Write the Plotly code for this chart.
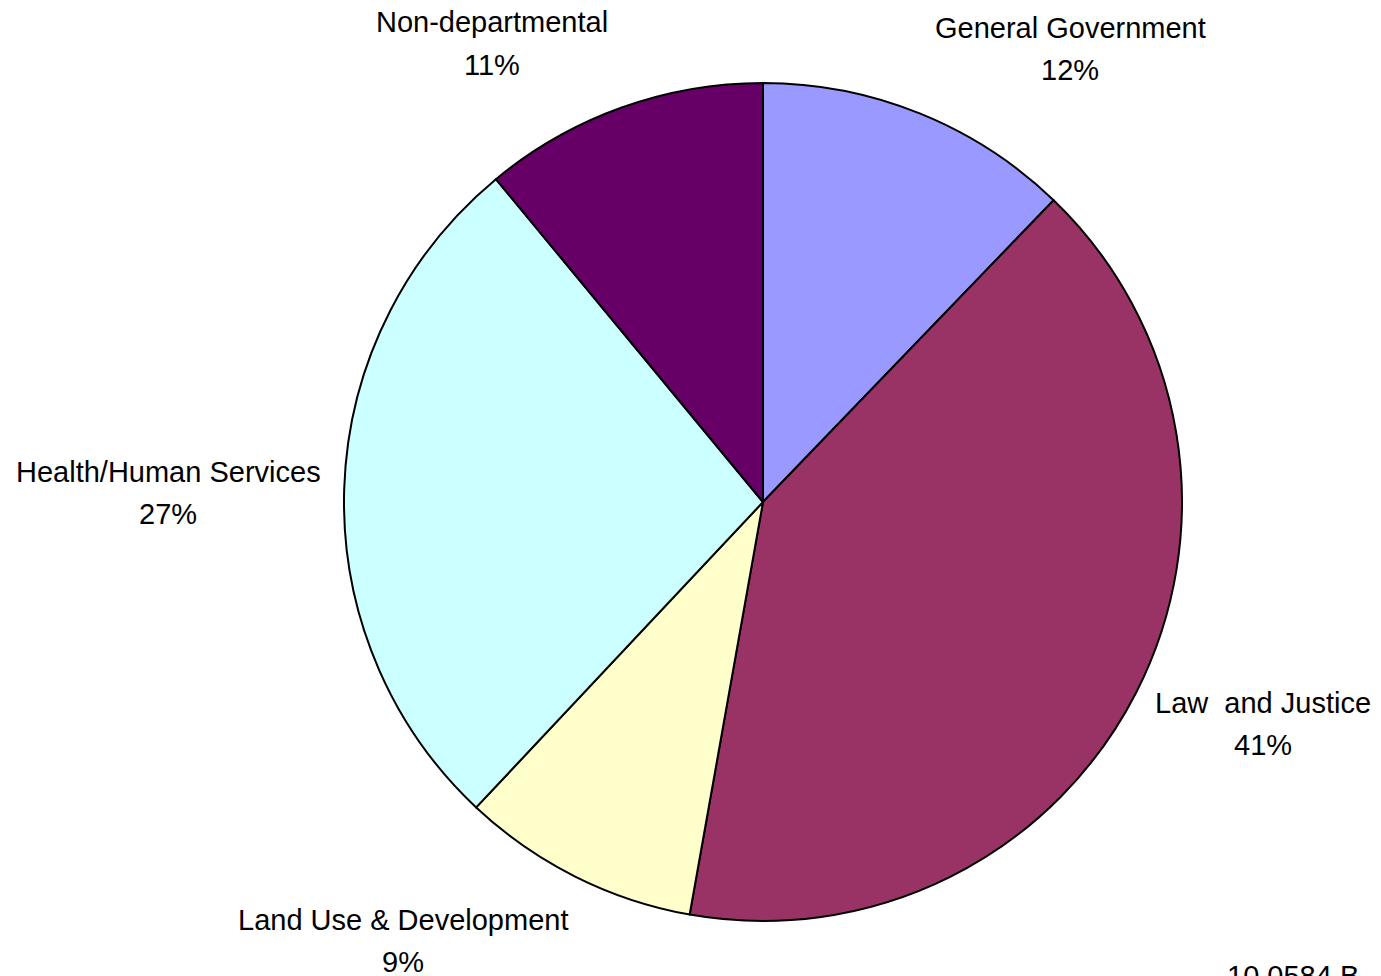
import plotly.graph_objects as go

categories = ["General Government", "Law  and Justice", "Land Use & Development",
              "Health/Human Services", "Non-departmental"]
shares = [12.2, 40.6, 9.2, 27.0, 11.0]
colors = ["#9999FF", "#993366", "#FFFFCC", "#CCFFFF", "#660066"]
total_label = "10.0584 B"

W, H = 1381, 976
cx, cy, r = 763, 502, 419
FONT = dict(family="Liberation Sans, Arial, sans-serif", size=29, color="black")

fig = go.Figure(go.Pie(
    labels=categories,
    values=shares,
    sort=False,
    direction="clockwise",
    rotation=0,
    textinfo="none",
    hoverinfo="label+percent",
    marker=dict(colors=colors, line=dict(color="black", width=2)),
    domain=dict(x=[(cx - r) / W, (cx + r) / W],
                y=[(H - cy - r) / H, (H - cy + r) / H]),
    showlegend=False,
))

# label anchors in pixels: (x centre, name line y, percent line y)
label_pos = {
    "General Government": (1070, 28, 70),
    "Law  and Justice": (1263, 703, 745),
    "Land Use & Development": (403, 920, 962),
    "Health/Human Services": (168, 472, 514),
    "Non-departmental": (492, 22, 65),
}

tot = sum(shares)
annotations = []
for name, v in zip(categories, shares):
    x, y1, y2 = label_pos[name]
    for txt, y in ((name.replace("  ", "\u00a0 "), y1), (f"{round(v / tot * 100)}%", y2)):
        annotations.append(dict(
            x=x / W, y=1 - y / H, xref="paper", yref="paper",
            text=txt, showarrow=False, xanchor="center", yanchor="middle",
            font=FONT,
        ))
annotations.append(dict(
    x=1225 / W, y=1 - 976 / H, xref="paper", yref="paper",
    text=total_label, showarrow=False, xanchor="left", yanchor="middle",
    font=FONT,
))

fig.update_layout(
    width=W, height=H,
    margin=dict(l=0, r=0, t=0, b=0),
    paper_bgcolor="white", plot_bgcolor="white",
    annotations=annotations,
)

fig.write_html("out.html")
